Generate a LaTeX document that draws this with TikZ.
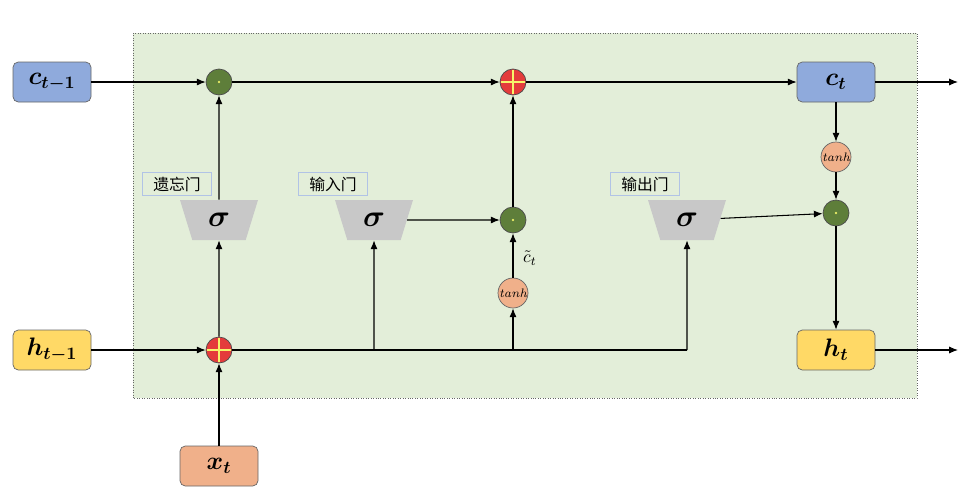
\documentclass[tikz,border=0pt]{standalone}
\usepackage{amsmath,bm}
\usepackage{fontspec}
\newfontfamily\cjk{Noto Sans CJK SC}
\usetikzlibrary{arrows.meta, shapes.geometric}
\definecolor{boxgreen}{HTML}{E3EED9}
\definecolor{cblue}{HTML}{8FAADC}
\definecolor{hyellow}{HTML}{FFD966}
\definecolor{xorange}{HTML}{F0B08A}
\definecolor{mulgreen}{HTML}{5E7E3A}
\definecolor{plusred}{HTML}{E43B3B}
\definecolor{sigmagray}{HTML}{C8C8C8}
\definecolor{xyellow}{HTML}{F5F56A}

\begin{document}
\begin{tikzpicture}[
    x=0.02cm, y=-0.02cm,
    arrow/.style={-{Latex[length=5pt,width=4pt]}, semithick},
    state/.style={draw=black!60, rounded corners=3pt, minimum width=78*0.02cm, minimum height=40*0.02cm, font=\Large},
    mul/.style={circle, draw=black!70, fill=mulgreen, minimum size=26*0.02cm, inner sep=0pt,
        path picture={\draw[xyellow, line width=1.5pt]
            ([shift={(-0.18,-0.18)}]path picture bounding box.center) -- ([shift={(0.18,0.18)}]path picture bounding box.center)
            ([shift={(-0.18,0.18)}]path picture bounding box.center) -- ([shift={(0.18,-0.18)}]path picture bounding box.center);}},
    add/.style={circle, draw=black!70, fill=plusred, minimum size=26*0.02cm, inner sep=0pt,
        path picture={\draw[xyellow, line width=1.5pt]
            ([xshift=-0.24cm]path picture bounding box.center) -- ([xshift=0.24cm]path picture bounding box.center)
            ([yshift=-0.24cm]path picture bounding box.center) -- ([yshift=0.24cm]path picture bounding box.center);}},
    tanhnode/.style={circle, draw=black!60, fill=xorange, minimum size=30*0.02cm, inner sep=0pt, font=\scriptsize\itshape},
    gate/.style={trapezium, trapezium angle=64, fill=sigmagray, minimum width=78*0.02cm, minimum height=40*0.02cm, trapezium stretches body, shape border rotate=180, font=\LARGE},
    gatelabel/.style={draw=cblue!70, fill=boxgreen, font=\cjk\small, minimum width=69*0.02cm, minimum height=23*0.02cm, inner sep=1pt},
    ]

\useasboundingbox (0,0) rectangle (968,501);
\draw[densely dotted, fill=boxgreen, draw=black!60] (133,33) rectangle (917,398);

% Zustaende und Eingaben
\node[state, fill=cblue] (cprev) at (52,82) {$\bm{c_{t-1}}$};
\node[state, fill=hyellow] (hprev) at (52,350) {$\bm{h_{t-1}}$};
\node[state, fill=xorange] (xt) at (219,466) {$\bm{x_t}$};
\node[state, fill=cblue] (ct) at (836,82) {$\bm{c_t}$};
\node[state, fill=hyellow] (ht) at (836,350) {$\bm{h_t}$};
\coordinate (cout) at (958,82);
\coordinate (hout) at (958,350);

% Operationen
\node[mul] (forgetmul) at (219,82) {};
\node[add] (celladd) at (513,82) {};
\node[mul] (inputmul) at (513,220) {};
\node[mul] (outputmul) at (836,213) {};
\node[add] (inputadd) at (219,350) {};
\node[tanhnode] (candtanh) at (513,293) {tanh};
\node[tanhnode] (celltanh) at (836,157) {tanh};
\node at (530,258) {$\tilde{c}_t$};

% Gatter
\node[gate] (forget) at (219,220) {$\bm{\sigma}$};
\node[gate] (input) at (374,220) {$\bm{\sigma}$};
\node[gate] (output) at (687,220) {$\bm{\sigma}$};
\node[gatelabel] at (177,184) {遗忘门};
\node[gatelabel] at (333,184) {输入门};
\node[gatelabel] at (645,184) {输出门};

% Zellzustand
\draw[arrow] (cprev) -- (forgetmul);
\draw[arrow] (forgetmul) -- (celladd);
\draw[arrow] (celladd) -- (ct);
\draw[arrow] (ct) -- (cout);

% Eingang
\draw[arrow] (hprev) -- (inputadd);
\draw[arrow] (xt) -- (inputadd);
\draw[arrow] (inputadd) -- (forget);
\draw[arrow] (forget) -- (forgetmul);
\draw[semithick] (inputadd.east) -- (687,350) coordinate (busend);
\draw[arrow] (374,350) -- (input);
\draw[arrow] (513,350) -- (candtanh);
\draw[arrow] (busend) -- (output);

% Eingangsgatter
\draw[arrow] (input) -- (inputmul);
\draw[arrow] (candtanh) -- (inputmul);
\draw[arrow] (inputmul) -- (celladd);

% Ausgangsgatter
\draw[arrow] (output) -- (outputmul);
\draw[arrow] (ct) -- (celltanh);
\draw[arrow] (celltanh) -- (outputmul);
\draw[arrow] (outputmul) -- (ht);
\draw[arrow] (ht) -- (hout);

\end{tikzpicture}
\end{document}
